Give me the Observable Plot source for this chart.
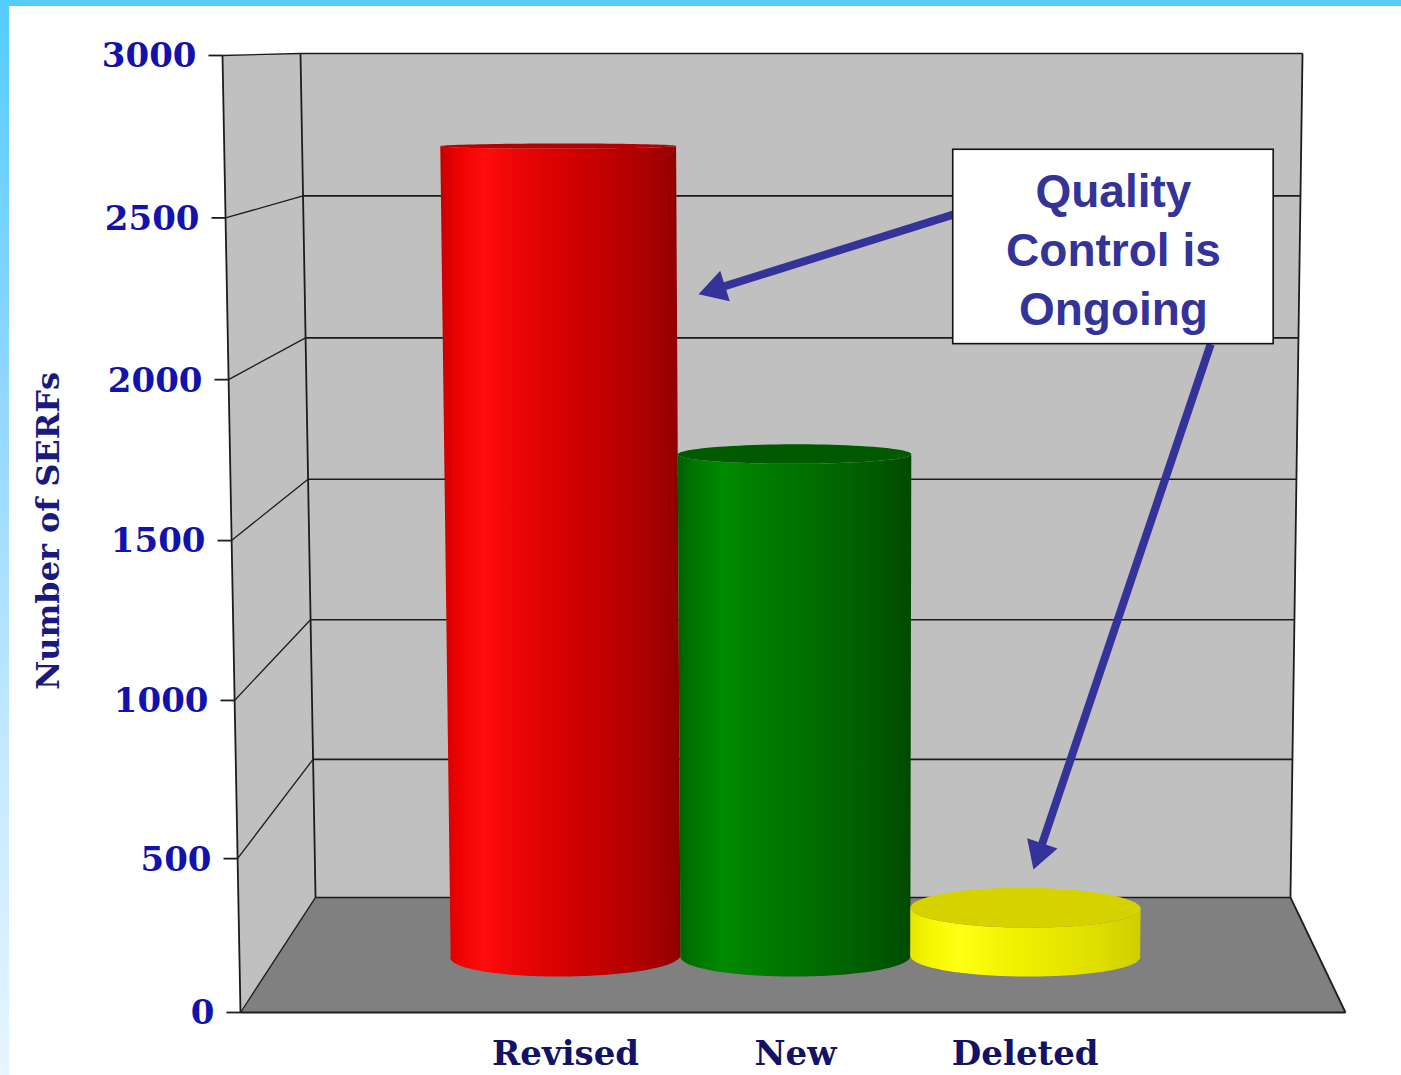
<!DOCTYPE html>
<html>
<head>
<meta charset="utf-8">
<script src="https://cdn.jsdelivr.net/npm/d3@7"></script>
<script src="https://cdn.jsdelivr.net/npm/@observablehq/plot@0.6"></script>
<style>
  html, body { margin: 0; padding: 0; width: 1401px; height: 1075px; overflow: hidden; }
  body {
    background:
      linear-gradient(#55ccff, #55ccff) top left / 100% 6px no-repeat,
      linear-gradient(to bottom, #55ccff 0%, #8fd6ff 35%, #c4e9ff 70%, #e6f5ff 100%) top left / 9px 100% no-repeat,
      #ffffff;
  }
  #chart { position: absolute; left: 0; top: 0; }
</style>
</head>
<body>
<div id="chart"></div>
<script>
// ---- data ----
const categories = ["Revised", "New", "Deleted"];
const counts = [2700, 1685, 165];
const yTicks = [0, 500, 1000, 1500, 2000, 2500, 3000];
const yAxisTitle = "Number of SERFs";
const noteText = "Quality\nControl is\nOngoing";

// ---- styles ----
const shades = [
  {stops: [[0, "#c40000"], [0.07, "#ec0202"], [0.18, "#ff0c0c"], [0.35, "#e80404"], [0.55, "#d20000"], [0.8, "#b40000"], [0.95, "#9c0000"], [1, "#8c0000"]], cap: "#b40000"},
  {stops: [[0, "#006000"], [0.07, "#007600"], [0.2, "#008a00"], [0.4, "#007a00"], [0.6, "#006c00"], [0.85, "#005a00"], [1, "#004a00"]], cap: "#005a00"},
  {stops: [[0, "#e6e600"], [0.08, "#f6f600"], [0.22, "#ffff14"], [0.45, "#f0f000"], [0.75, "#e2e200"], [1, "#cfcf00"]], cap: "#d6d200"}
];
const wallFill = "#c0c0c0", floorFill = "#808080", edge = "#1c1c1c";
const tickBlue = "#1212ad", titleBlue = "#1a1a7e", catBlue = "#121266", noteBlue = "#333399";

// ---- scales ----
const xScale = {type: "linear", domain: [0, 1], range: [240, 1345]};
const yScale = {type: "pow", exponent: 1.02, domain: [0, 3000], range: [1012, 55]};
const xs = Plot.scale({x: xScale}), ys = Plot.scale({y: yScale});
const TOP = yTicks[yTicks.length - 1];

// Oblique box projection: u across the floor (0 left, 1 right), v = count, z = depth (0 front, 1 back).
// Returns chart units on the front plane, later mapped by the x/y scales.
const DEPTH_LIFT = 376, LIFT_VANISH = 3050;
const LEFT = {front: [0, -0.0163], back: [0.0679, 0.0543]};
const RIGHT = {front: [1, 1.0136], back: [0.9502, 0.9611]};
const lerp = (a, b, k) => a + (b - a) * k;
function project(u, v, z) {
  const t = v / TOP;
  const l = lerp(lerp(LEFT.front[0], LEFT.front[1], t), lerp(LEFT.back[0], LEFT.back[1], t), z);
  const r = lerp(lerp(RIGHT.front[0], RIGHT.front[1], t), lerp(RIGHT.back[0], RIGHT.back[1], t), z);
  return {x: l + (r - l) * u, y: v + z * DEPTH_LIFT * (1 - v / LIFT_VANISH)};
}
const poly = (pts) => pts.map(([u, v, z]) => project(u, v, z));
const seg = (a, b) => {
  const p = project(...a), q = project(...b);
  return {x1: p.x, y1: p.y, x2: q.x, y2: q.y};
};

// ---- walls and floor ----
const backWall = poly([[0, 0, 1], [1, 0, 1], [1, TOP, 1], [0, TOP, 1]]);
const leftWall = poly([[0, 0, 0], [0, 0, 1], [0, TOP, 1], [0, TOP, 0]]);
const floor = poly([[0, 0, 0], [1, 0, 0], [1, 0, 1], [0, 0, 1]]);

const backGrid = yTicks.map(v => seg([0, v, 1], [1, v, 1]));
const sideGrid = yTicks.map(v => seg([0, v, 0], [0, v, 1]));
const edges = [
  seg([0, 0, 0], [0, TOP, 0]),   // front value axis
  seg([0, 0, 1], [0, TOP, 1]),   // back-left corner
  seg([1, 0, 1], [1, TOP, 1]),   // back-right edge
  seg([0, 0, 0], [1, 0, 0]),     // floor front edge
  seg([1, 0, 0], [1, 0, 1])      // floor right edge
];

// ---- cylinders ----
const band = d3.scaleBand().domain(categories).range([0.166, 0.829]).padding(0);
const RZ = 0.18, STEPS = 90;
function cylinder(cat, value) {
  const uc = band(cat) + band.bandwidth() / 2, r = band.bandwidth() / 2;
  const ring = (v, a0, a1) => d3.range(STEPS + 1).map(i => {
    const a = a0 + (a1 - a0) * i / STEPS;
    return project(uc + r * Math.cos(a), v, 0.5 - RZ * Math.sin(a));
  });
  return {body: [...ring(0, Math.PI, 0), ...ring(value, 0, Math.PI)], cap: ring(value, 0, 2 * Math.PI)};
}
const cylinders = categories.map((c, i) => cylinder(c, counts[i]));
const catCenter = c => project(band(c) + band.bandwidth() / 2, 0, 0.5).x;

// ---- callout ----
const note = {x1: 0.645, x2: 0.935, y1: 2110, y2: 2710, text: noteText};
const pointers = [
  {x1: 0.645, y1: 2510, x2: 0.4145, y2: 2264},
  {x1: 0.878, y1: 2110, x2: 0.7176, y2: 465}
];
const HEAD_R = 11.9, HEAD_OFFSET = 18.5;
const heads = pointers.map(a => {
  const sx = xs.apply(a.x1), sy = ys.apply(a.y1), tx = xs.apply(a.x2), ty = ys.apply(a.y2);
  const len = Math.hypot(tx - sx, ty - sy), ux = (tx - sx) / len, uy = (ty - sy) / len;
  const cx = tx - ux * HEAD_OFFSET, cy = ty - uy * HEAD_OFFSET;
  return {x1: a.x1, y1: a.y1, x: xs.invert(cx), y: ys.invert(cy), angle: Math.atan2(ux, -uy) * 180 / Math.PI};
});

const tickLen = v => xs.invert(xs.apply(project(0, v, 0).x) - 14);
const serif = "DejaVu Serif, Liberation Serif, serif";
const sans = "Liberation Sans, Arial, Helvetica, sans-serif";

const marks = [
  Plot.line(backWall, {x: "x", y: "y", fill: wallFill, stroke: "none"}),
  Plot.line(leftWall, {x: "x", y: "y", fill: wallFill, stroke: "none"}),
  Plot.line(floor, {x: "x", y: "y", fill: floorFill, stroke: "none"}),
  Plot.link(backGrid, {x1: "x1", y1: "y1", x2: "x2", y2: "y2", stroke: edge, strokeWidth: 1.6}),
  Plot.link(sideGrid, {x1: "x1", y1: "y1", x2: "x2", y2: "y2", stroke: edge, strokeWidth: 1.3}),
  Plot.link(edges, {x1: "x1", y1: "y1", x2: "x2", y2: "y2", stroke: edge, strokeWidth: 1.8}),
  ...cylinders.flatMap((cy, i) => [
    Plot.line(cy.body, {x: "x", y: "y", fill: `url(#shade-${i})`, stroke: "none"}),
    Plot.line(cy.cap, {x: "x", y: "y", fill: shades[i].cap, stroke: "none"})
  ]),
  // value axis ticks and labels
  Plot.link(yTicks, {x1: v => tickLen(v), x2: v => project(0, v, 0).x, y1: v => v, y2: v => v, stroke: edge, strokeWidth: 1.8}),
  Plot.text(yTicks, {x: v => project(0, v, 0).x, y: v => v, text: v => String(v), textAnchor: "end", dx: -26, dy: 1,
    fontFamily: serif, fontWeight: "bold", fontSize: 34, fill: tickBlue}),
  Plot.text([yAxisTitle], {frameAnchor: "left", textAnchor: "middle", dx: 48, dy: -7, rotate: -90, text: d => d,
    fontFamily: serif, fontWeight: "bold", fontSize: 32, fill: titleBlue}),
  // category labels
  Plot.text(categories, {x: catCenter, y: 0, dy: 42, text: d => d,
    fontFamily: serif, fontWeight: "bold", fontSize: 34, fill: catBlue}),
  // callout
  Plot.link(heads, {x1: "x1", y1: "y1", x2: "x", y2: "y", stroke: noteBlue, strokeWidth: 8}),
  Plot.dot(heads, {x: "x", y: "y", symbol: "triangle", r: HEAD_R, rotate: "angle", fill: noteBlue, stroke: "none"}),
  Plot.rect([note], {x1: "x1", x2: "x2", y1: "y1", y2: "y2", fill: "white", stroke: "#111", strokeWidth: 1.6}),
  Plot.text([note], {x: d => (d.x1 + d.x2) / 2, y: d => (d.y1 + d.y2) / 2, text: "text", lineHeight: 1.28,
    fontFamily: sans, fontWeight: "bold", fontSize: 46, fill: noteBlue})
];

const svg = Plot.plot({
  width: 1401,
  height: 1075,
  margin: 0,
  style: {background: "transparent", overflow: "visible"},
  x: {...xScale, axis: null},
  y: {...yScale, axis: null},
  marks
});

// horizontal shading for the cylinder bodies
const defs = d3.select(svg).insert("defs", ":first-child");
shades.forEach((s, i) => {
  const g = defs.append("linearGradient").attr("id", `shade-${i}`)
    .attr("x1", 0).attr("x2", 1).attr("y1", 0).attr("y2", 0);
  s.stops.forEach(([o, c]) => g.append("stop").attr("offset", o).attr("stop-color", c));
});

document.getElementById("chart").append(svg);
</script>
</body>
</html>
